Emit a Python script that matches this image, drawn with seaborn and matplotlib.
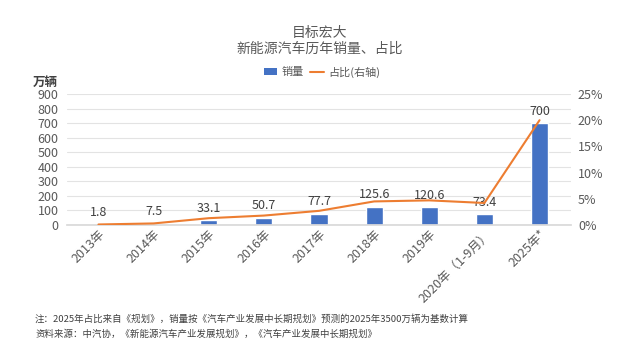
import matplotlib
matplotlib.use("Agg")
import matplotlib.pyplot as plt
import seaborn as sns
import pandas as pd
from matplotlib.patches import Patch
from matplotlib.lines import Line2D
from matplotlib.ticker import FuncFormatter, MultipleLocator

sns.set_theme(style="white")
plt.rcParams['font.family'] = ['Noto Sans CJK SC', 'DejaVu Sans']

categories = ["2013年", "2014年", "2015年", "2016年", "2017年", "2018年", "2019年", "2020年（1-9月）", "2025年*"]
sales = [1.8, 7.5, 33.1, 50.7, 77.7, 125.6, 120.6, 73.4, 700]
share = [0.1, 0.3, 1.3, 1.8, 2.7, 4.5, 4.7, 4.2, 20.0]
sales_labels = ["1.8", "7.5", "33.1", "50.7", "77.7", "125.6", "120.6", "73.4", "700"]

df = pd.DataFrame({"cat": categories, "sales": sales, "share": share})

bar_color = "#4472C4"
line_color = "#ED7D31"
text_color = "#595959"

fig = plt.figure(figsize=(6.4, 3.6), dpi=100)
ax = fig.add_axes([67/640, 1-225/360, (571-67)/640, (225-94)/360])

sns.barplot(data=df, x="cat", y="sales", color=bar_color, width=0.31, ax=ax, saturation=1)
ax.set_ylim(0, 900)
ax.yaxis.set_major_locator(MultipleLocator(100))
ax.grid(axis="y", color="#E3E3E3", linewidth=0.8)
ax.set_axisbelow(True)
for s in ["top", "right", "left"]:
    ax.spines[s].set_visible(False)
ax.spines["bottom"].set_color("#D9D9D9")
ax.set_xlabel("")
ax.set_ylabel("")
ax.tick_params(axis="y", colors=text_color, labelsize=9, length=0, pad=6)
ax.tick_params(axis="x", colors=text_color, labelsize=9, length=0, pad=2)
plt.setp(ax.get_xticklabels(), rotation=45, ha="right", rotation_mode="anchor")

for i, (v, lab) in enumerate(zip(sales, sales_labels)):
    ax.annotate(lab, (i, v), xytext=(0, 4), textcoords="offset points",
                ha="center", va="bottom", fontsize=9, color="#404040")

ax2 = ax.twinx()
sns.lineplot(data=df, x="cat", y="share", color=line_color, linewidth=1.5, ax=ax2, sort=False)
ax2.set_ylim(0, 25)
ax2.yaxis.set_major_locator(MultipleLocator(5))
ax2.yaxis.set_major_formatter(FuncFormatter(lambda v, p: f"{v:.0f}%"))
ax2.tick_params(axis="y", colors=text_color, labelsize=9, length=0, pad=5)
for s in ["top", "right", "left", "bottom"]:
    ax2.spines[s].set_visible(False)
ax2.set_ylabel("")
ax2.set_xlabel("")
ax2.grid(False)

fig.text(33/640, 1-82/360, "万辆", fontsize=9, color="#404040", ha="left", va="center", fontweight="bold")
fig.text(0.5, 1-33/360, "目标宏大", fontsize=10, color=text_color, ha="center", va="center")
fig.text(0.5, 1-49/360, "新能源汽车历年销量、占比", fontsize=10, color=text_color, ha="center", va="center")

handles = [Patch(facecolor=bar_color, edgecolor="none", label="销量"),
           Line2D([0], [0], color=line_color, lw=1.5, label="占比(右轴)")]
fig.legend(handles=handles, loc="center", bbox_to_anchor=(322/640, 1-72/360), ncol=2,
           frameon=False, fontsize=8, labelcolor=text_color, handlelength=1.2,
           handleheight=0.6, columnspacing=0.6, handletextpad=0.4)

fig.text(35/640, 1-319/360, "注：2025年占比来自《规划》，销量按《汽车产业发展中长期规划》预测的2025年3500万辆为基数计算",
         fontsize=6.8, color="#404040", ha="left", va="center")
fig.text(35/640, 1-334/360, "资料来源：中汽协，《新能源汽车产业发展规划》，《汽车产业发展中长期规划》",
         fontsize=6.8, color="#404040", ha="left", va="center")

fig.savefig("out.png", dpi=100)
